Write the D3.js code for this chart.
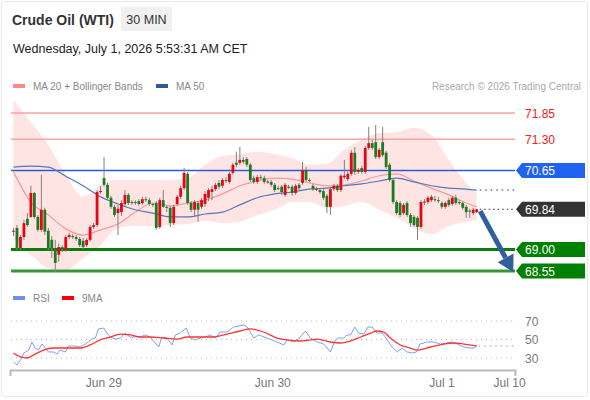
<!DOCTYPE html>
<html>
<head>
<meta charset="utf-8">
<script src="https://d3js.org/d3.v7.min.js"></script>
<style>
    body { margin: 0; background: #fff; }
    svg text { font-family: "Liberation Sans", Arial, sans-serif; }
</style>
</head>
<body>
<svg id="chart" width="590" height="400"></svg>
<script>
// 30 min candles, index 1..134
var open = [69.37,69.45,69.03,69.26,69.64,69.68,70.18,69.68,69.41,69.83,69.39,69.20,69.03,68.89,69.05,68.99,69.26,69.28,69.26,69.22,
    69.18,69.09,69.20,69.47,69.51,70.20,70.49,70.35,70.08,69.89,69.76,69.78,69.95,70.14,69.97,69.99,70.01,69.97,70.05,70.03,
    69.95,69.97,69.47,70.03,69.89,69.87,69.55,69.95,70.10,70.28,70.58,69.97,69.83,69.97,69.89,69.95,70.08,70.20,70.26,70.39,
    70.33,70.45,70.41,70.60,70.81,70.81,70.87,70.89,70.77,70.49,70.41,70.51,70.49,70.41,70.41,70.35,70.28,70.31,70.14,70.31,
    70.31,70.18,70.35,70.39,70.66,70.45,70.33,70.26,70.24,70.22,70.12,69.89,70.26,70.33,70.24,70.51,70.47,70.58,71.02,70.62,
    70.70,70.62,71.12,71.22,71.24,70.93,71.24,71.02,70.77,70.45,69.99,69.97,69.76,69.97,69.72,69.68,69.66,69.47,69.99,69.99,
    70.03,70.05,70.03,69.97,69.89,70.03,69.95,70.08,69.99,69.97,69.89,69.81,69.76,69.78]
var high = [69.45,69.51,69.30,69.62,69.76,70.33,70.20,69.72,70.56,69.87,69.45,69.28,69.20,69.12,69.09,69.30,69.35,69.32,69.30,69.26,
    69.24,69.24,69.51,69.55,70.24,70.33,70.93,70.39,70.12,69.93,69.93,70.03,70.24,70.18,70.03,70.03,70.05,70.10,70.10,70.08,
    69.97,70.01,70.08,70.24,69.91,69.91,69.93,70.14,70.33,70.70,70.62,70.01,70.03,70.01,70.08,70.22,70.28,70.33,70.39,70.45,
    70.49,70.51,70.62,70.81,71.04,71.14,70.93,70.93,70.81,70.54,70.56,70.56,70.54,70.45,70.45,70.39,70.33,70.35,70.39,70.35,
    70.35,70.37,70.39,70.83,70.72,70.49,70.37,70.31,70.28,70.26,70.16,70.31,70.37,70.37,70.58,70.87,70.62,71.08,71.14,70.70,
    70.75,71.16,71.56,71.29,71.60,71.12,71.56,71.06,70.81,70.49,70.03,70.01,69.97,70.01,69.76,69.72,69.70,70.03,70.05,70.12,
    70.14,70.12,70.10,70.01,70.01,70.08,70.12,70.14,70.03,70.01,69.93,69.85,69.87,69.85]
var low = [69.28,68.99,68.99,69.20,69.47,69.66,69.64,69.37,69.37,69.30,68.99,68.82,68.53,68.74,68.95,68.95,69.22,69.22,69.18,69.05,
    69.01,69.05,69.16,69.43,69.47,70.16,70.31,70.03,69.85,69.68,69.30,69.70,69.91,69.93,69.93,69.93,69.91,69.93,69.99,69.91,
    69.89,69.41,69.43,69.87,69.78,69.47,69.51,69.91,70.05,70.24,69.93,69.78,69.68,69.58,69.85,69.89,70.01,70.03,70.22,70.26,
    70.28,70.39,70.37,70.56,70.72,70.77,70.79,70.72,70.41,70.37,70.37,70.45,70.37,70.37,70.31,70.20,70.24,70.14,70.10,70.26,
    70.12,70.14,70.24,70.35,70.41,70.41,70.22,70.22,70.16,70.03,69.76,69.72,70.22,70.20,70.20,70.47,70.43,70.54,70.56,70.58,
    70.58,70.58,71.08,71.08,70.89,70.89,70.93,70.68,70.41,69.95,69.72,69.68,69.72,69.68,69.47,69.47,69.20,69.43,69.93,69.95,
    69.99,69.99,69.97,69.85,69.85,69.89,69.91,69.93,69.93,69.83,69.66,69.66,69.72,69.76]
var close = [69.39,69.03,69.26,69.55,69.51,70.18,69.68,69.41,69.83,69.37,69.03,69.03,68.72,69.05,69.01,69.26,69.30,69.26,69.22,69.09,
    69.05,69.20,69.47,69.51,70.20,70.22,70.35,70.08,69.89,69.72,69.85,69.97,70.14,69.97,69.99,69.97,69.95,70.05,70.03,69.95,
    69.93,69.45,70.03,69.89,69.87,69.55,69.89,70.10,70.28,70.60,69.97,69.83,69.99,69.83,70.03,70.16,70.24,70.26,70.35,70.31,
    70.45,70.43,70.58,70.77,70.77,70.87,70.83,70.77,70.45,70.41,70.51,70.49,70.41,70.42,70.35,70.24,70.26,70.20,70.35,70.30,
    70.18,70.33,70.28,70.66,70.45,70.44,70.26,70.27,70.20,70.08,69.89,70.26,70.33,70.24,70.54,70.54,70.58,71.02,70.62,70.66,
    70.62,71.12,71.22,71.12,70.93,71.08,70.97,70.72,70.45,69.99,69.76,69.72,69.93,69.72,69.55,69.51,69.47,69.99,70.00,70.08,
    70.10,70.04,70.02,69.89,69.97,69.93,70.08,69.97,69.98,69.87,69.78,69.80,69.83,69.84]

// indicators, sampled at these candle indexes
var maIdx = [1,6,11,16,21,26,31,36,41,46,51,56,61,66,71,76,81,86,91,96,101,106,111,116,121,126,131,134]
var ma20 = [70.62,69.99,69.72,69.43,69.30,69.41,69.53,69.78,69.97,69.91,69.97,70.03,70.16,70.33,70.43,70.49,70.47,70.39,70.33,70.35,
    70.43,70.54,70.58,70.43,70.28,70.14,69.97,69.89]
var ma50 = [70.72,70.74,70.72,70.53,70.33,70.10,69.95,69.83,69.76,69.68,69.68,69.74,69.78,69.93,70.08,70.16,70.20,70.26,70.28,70.33,
    70.37,70.43,70.49,70.41,70.33,70.28,70.26,70.24]
var bbUpper = [72.12,71.66,71.18,70.56,70.10,70.35,70.45,70.45,70.45,70.45,70.49,70.77,70.95,70.99,71.04,70.99,70.91,70.77,70.79,71.08,
    71.29,71.43,71.45,71.54,71.39,70.87,70.39,70.18]
var bbLower = [69.20,68.89,68.61,68.57,68.82,69.09,69.45,69.49,69.49,69.51,69.53,69.60,69.55,69.58,69.72,69.83,69.99,69.99,69.87,69.91,
    69.99,69.83,69.66,69.45,69.32,69.49,69.58,69.62]

var rsiIdx = [1,2,3,4,5.4,6.3,7.2,8.2,9.2,10.1,11.1,12.5,13.5,14.4,15.9,16.8,18.2,20.2,21.6,22.5,23.5,24.5,25.4,26.9,27.8,28.8,30.2,31.7,
    33.1,34.5,36,37.4,38.8,40.3,41.7,42.7,43.6,45.1,46.5,47.5,48.9,50.6,51.8,53.2,54.7,56.1,57.5,59,60.4,62.3,64.2,67.1,68.1,70,71.4,
    73.8,76.7,78.6,79.6,81.5,82.9,84.8,86.3,88.2,90.1,92,93.4,94.4,95.8,96.8,97.8,99,100.1,101.6,102.8,104,105.4,106.9,108.3,109.7,
    111.2,112.6,114,115.5,116.7,117.7,119.8,121.7,123.6,125.5,127,128.4,130.3,132.2,133.2,134]
var rsiVal = [25.7,22.4,27.8,35.4,38.6,47.3,40.8,38.6,45.1,40.8,36.5,36.5,34.3,38.6,36.5,43.0,43.0,41.9,45.1,47.3,50.5,51.6,61.4,62.4,
    57.0,52.7,50.5,51.6,57.0,52.7,52.7,52.7,54.9,52.7,46.2,41.9,52.7,51.6,44.1,54.9,57.0,62.4,51.6,49.5,51.6,52.7,54.9,51.6,58.1,58.1,
    63.5,65.7,63.5,51.6,54.9,51.6,47.3,44.1,49.5,47.3,50.5,59.2,51.6,47.3,45.1,36.5,49.5,51.6,51.6,54.9,54.9,63.5,57.0,55.9,63.5,63.5,
    57.0,57.0,49.5,41.9,36.5,40.8,36.5,35.4,36.5,45.1,47.3,47.3,45.1,46.2,47.3,45.1,41.9,40.8,40.8,43.0]
var ma9Idx = [1,3,4.9,6.7,9.6,12.5,16.3,20.2,23,25.9,28.8,31.7,34.5,37.4,40.3,44.1,48,50.8,54.7,58.5,62.3,66.1,69,72.8,76.7,79.6,
    82.9,86.3,88.2,92,94.9,97.8,100.7,103.6,105.4,107.3,109.2,112.1,114.9,116.9,120.7,124.6,127.4,130.3,134]
var ma9Val = [35.4,31.1,30.0,33.2,38.6,40.8,40.8,40.8,44.1,49.5,52.7,55.9,54.9,52.7,52.7,51.6,50.5,52.7,52.7,52.7,55.9,59.2,61.4,58.1,
    51.6,49.5,48.4,49.5,50.5,47.3,46.2,48.4,52.7,57.0,59.2,58.1,51.6,44.1,40.8,38.6,41.9,45.1,46.2,45.1,43.0]

// levels
var resistances = [71.85, 71.30]
var pivot = 70.65
var lastPrice = 69.84
var supports = [69.00, 68.55]
var rsiLevels = [70, 50, 30]

// x axis
var tickIdx = [26.8, 75.3, 123.9, 143.3]
var tickLabels = ["Jun 29", "Jun 30", "Jul 1", "Jul 10"]

var svg = d3.select("#chart")
var x = d3.scaleLinear().domain([0, 145]).range([10, 515])
var y = d3.scaleLinear().domain([68.55, 71.85]).range([271, 113])
var yr = d3.scaleLinear().domain([30, 70]).range([358, 321])
var fmt = d3.format(".2f")

// card
svg.append("rect").attr("x", 1.5).attr("y", 1.5).attr("width", 586).attr("height", 395)
    .attr("rx", 3).attr("fill", "#fff").attr("stroke", "#e8e8e8")

// header
svg.append("text").attr("x", 12).attr("y", 25).attr("font-size", 14).attr("font-weight", "bold")
    .attr("fill", "#333").text("Crude Oil (WTI)")
svg.append("rect").attr("x", 121).attr("y", 7).attr("width", 51).attr("height", 24).attr("rx", 2).attr("fill", "#f0f0f0")
svg.append("text").attr("x", 146.5).attr("y", 24).attr("text-anchor", "middle").attr("font-size", 12.5)
    .attr("fill", "#333").text("30 MIN")
svg.append("text").attr("x", 13).attr("y", 53).attr("font-size", 12.5).attr("fill", "#222")
    .text("Wednesday, July 1, 2026 5:53:31 AM CET")

// legends
function legend(lx, ly, color, label) {
    svg.append("rect").attr("x", lx).attr("y", ly - 6).attr("width", 12).attr("height", 4).attr("fill", color)
    svg.append("text").attr("x", lx + 20).attr("y", ly).attr("font-size", 10).attr("fill", "#888").text(label)
}
legend(13, 90, "#f88", "MA 20 + Bollinger Bands")
legend(156, 90, "#2d5b9b", "MA 50")
svg.append("text").attr("x", 581).attr("y", 90).attr("text-anchor", "end").attr("font-size", 10)
    .attr("fill", "#aaa").text("Research \u00a9 2026 Trading Central")
legend(13, 302, "#6f8fe8", "RSI")
legend(62, 302, "#f00", "9MA")

// bollinger band
var bb = maIdx.map(function(d, i) { return { i: d, up: bbUpper[i], lo: bbLower[i] } })
svg.append("path").datum(bb)
    .attr("fill", "#ffe4e4")
    .attr("d", d3.area().curve(d3.curveMonotoneX)
        .x(function(d) { return x(d.i) })
        .y0(function(d) { return y(d.lo) })
        .y1(function(d) { return y(d.up) }))

// horizontal levels
function hline(v, color, w, dash, x0) {
    svg.append("line").attr("x1", x0 || 11).attr("x2", 515).attr("y1", y(v)).attr("y2", y(v))
        .attr("stroke", color).attr("stroke-width", w).attr("stroke-dasharray", dash || null)
}
resistances.forEach(function(v) { hline(v, "#f9a3a3", 1.5) })
hline(pivot, "#2a5bd7", 1.5)
hline(supports[0], "#0a7d0a", 3)
hline(supports[1], "#35963a", 3)

// moving averages
function maLine(vals, color) {
    var pts = maIdx.map(function(d, i) { return [x(d), y(vals[i])] })
    svg.append("path").attr("d", d3.line().curve(d3.curveMonotoneX)(pts))
        .attr("fill", "none").attr("stroke", color).attr("stroke-width", 1.2)
}
maLine(ma20, "#f79a9a")
maLine(ma50, "#5478b8")
hline(ma50[ma50.length - 1], "#5478b8", 1.5, "1.5,4", x(134) + 3)
hline(lastPrice, "#333", 1.2, "1.5,3", x(134) + 3)

// candles
var candles = close.map(function(c, i) {
    return { i: i + 1, o: open[i], h: high[i], l: low[i], c: c }
})
var g = svg.append("g")
g.selectAll("line.wick").data(candles).enter().append("line")
    .attr("class", "wick")
    .attr("x1", function(d) { return x(d.i) }).attr("x2", function(d) { return x(d.i) })
    .attr("y1", function(d) { return y(d.h) }).attr("y2", function(d) { return y(d.l) })
    .attr("stroke", "#808080").attr("stroke-width", 1)
g.selectAll("rect").data(candles).enter().append("rect")
    .attr("x", function(d) { return x(d.i) - 1.4 })
    .attr("width", 2.8)
    .attr("y", function(d) { return y(Math.max(d.o, d.c)) })
    .attr("height", function(d) { return Math.max(1, Math.abs(y(d.o) - y(d.c))) })
    .attr("fill", function(d) { return d.c >= d.o ? "#e30613" : "#1f7a1f" })

// arrow
var a0 = [x(135), y(69.80)], a1 = [x(144.5), y(68.53)]
var dx = a1[0] - a0[0], dy = a1[1] - a0[1], len = Math.sqrt(dx * dx + dy * dy)
var ux = dx / len, uy = dy / len
var hb = [a1[0] - ux * 16, a1[1] - uy * 16]
svg.append("line").attr("x1", a0[0]).attr("y1", a0[1]).attr("x2", hb[0]).attr("y2", hb[1])
    .attr("stroke", "#2f5f9c").attr("stroke-width", 5)
svg.append("path")
    .attr("d", "M" + a1 + "L" + [hb[0] - uy * 9, hb[1] + ux * 9] + "L" + [hb[0] + uy * 9, hb[1] - ux * 9] + "Z")
    .attr("fill", "#2f5f9c")

// price labels
resistances.forEach(function(v) {
    svg.append("text").attr("x", 525).attr("y", y(v) + 4.5).attr("font-size", 12)
        .attr("fill", "#ee1c25").text(fmt(v))
})
function tag(v, color) {
    var yc = y(v)
    svg.append("path")
        .attr("d", "M516," + yc + "L522," + (yc - 7.5) + "L585," + (yc - 7.5) + "L585," + (yc + 7.5) + "L522," + (yc + 7.5) + "Z")
        .attr("fill", color)
    svg.append("text").attr("x", 525).attr("y", yc + 4.5).attr("font-size", 12).attr("fill", "#fff").text(fmt(v))
}
tag(pivot, "#1f63f0")
tag(lastPrice, "#333")
tag(supports[0], "#008000")
tag(supports[1], "#008000")

// RSI panel
rsiLevels.forEach(function(v) {
    svg.append("line").attr("x1", 11).attr("x2", 515).attr("y1", yr(v)).attr("y2", yr(v))
        .attr("stroke", "#bbb").attr("stroke-dasharray", "1,4")
    svg.append("text").attr("x", 525).attr("y", yr(v) + 4.5).attr("font-size", 12).attr("fill", "#777").text(v)
})
var rsiPts = rsiIdx.map(function(d, i) { return [x(d), yr(rsiVal[i])] })
svg.append("path").attr("d", d3.line()(rsiPts))
    .attr("fill", "none").attr("stroke", "#7f9ff0").attr("stroke-width", 1)
svg.append("line").attr("x1", x(134) + 2).attr("x2", 515)
    .attr("y1", yr(rsiVal[rsiVal.length - 1])).attr("y2", yr(rsiVal[rsiVal.length - 1]))
    .attr("stroke", "#7f9ff0").attr("stroke-width", 1.2).attr("stroke-dasharray", "1.5,4")
var ma9Pts = ma9Idx.map(function(d, i) { return [x(d), yr(ma9Val[i])] })
svg.append("path").attr("d", d3.line().curve(d3.curveMonotoneX)(ma9Pts))
    .attr("fill", "none").attr("stroke", "#f33").attr("stroke-width", 1.3)

// x axis
var xAxis = d3.axisBottom(x).tickValues(tickIdx)
    .tickFormat(function(d, i) { return tickLabels[i] })
    .tickSizeInner(0).tickSizeOuter(6).tickPadding(8)
var ax = svg.append("g").attr("transform", "translate(0,370)").call(xAxis)
ax.select(".domain").attr("stroke", "#bbb").attr("stroke-width", 2)
ax.selectAll("text").attr("font-size", 12).attr("fill", "#777")
    .attr("font-family", "Liberation Sans, Arial, sans-serif")
</script>
</body>
</html>
